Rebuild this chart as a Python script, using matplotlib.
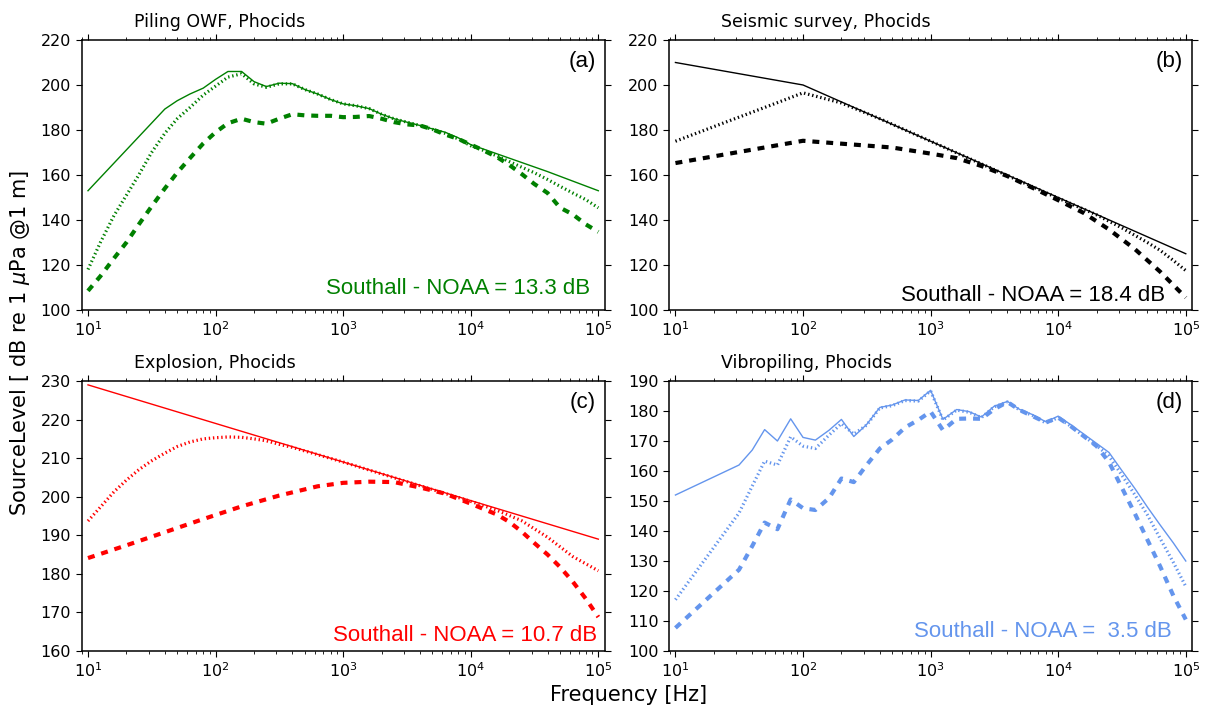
import matplotlib
matplotlib.use('Agg')
import matplotlib.pyplot as plt

plt.rcParams['font.family'] = 'DejaVu Sans'
plt.rcParams['font.size'] = 11
plt.rcParams['lines.scale_dashes'] = False

# ---- (a) Piling OWF ----
fa_src = [10, 40, 50, 63, 80, 100, 125, 160, 200, 250, 315, 400, 500, 630, 800, 1000,
          1250, 1600, 2000, 2500, 3150, 4000, 5000, 6300, 8000, 10000, 20000, 40000, 100000]
la_src = [153, 189.3, 193, 196, 198.6, 202.5, 206, 206, 201.5, 199.3, 200.8, 200.6, 198,
          196, 193.5, 191.6, 190.8, 189.5, 187, 185, 183.5, 182, 180.5, 179, 176.5, 173.5,
          167.5, 161.5, 153]
fa_w = [10, 12.5, 16, 20, 25, 31.5, 40, 50, 63, 80, 100, 125, 160, 200, 250, 315, 400, 500,
        630, 800, 1000, 1250, 1600, 2000, 2500, 3150, 4000, 5000, 6300, 8000, 10000, 12500,
        16000, 20000, 25000, 31500, 40000, 50000, 63000, 80000, 100000]
la_noaa = [118, 130, 142, 151, 160, 170, 178.5, 185, 190, 195.5, 199.5, 203.5, 205, 200.5,
           199, 200.5, 200.5, 198, 196, 193.5, 191.6, 190.8, 189.5, 187, 185, 183.5, 182,
           180.3, 178.5, 176, 173, 171, 168.5, 166, 163.5, 161, 158, 155, 152, 149, 145.4]
la_sth = [108.5, 115, 123, 130, 138, 146, 154, 161, 167.5, 174, 179, 183, 185, 183.5, 182.8,
          185, 187, 186.5, 186.3, 186.3, 185.7, 185.8, 186.2, 185, 183.5, 182.5, 182, 180.3,
          178, 176, 173.5, 171, 168, 164.5, 160.5, 156, 152, 145.5, 142.5, 138, 134.7]

# ---- (b) Seismic survey ----
fb_src = [10, 100, 1000, 10000, 100000]
lb_src = [210, 200, 175, 150, 125]
fb_noaa = [10, 20, 50, 100, 200, 400, 1000, 10000, 20000, 31500, 50000, 63000, 80000, 100000]
lb_noaa = [175, 181.5, 190, 196.5, 192, 185, 175, 149.7, 142.3, 136.5, 130, 126.5, 122, 117.5]
fb_sth = [10, 100, 250, 500, 1000, 1600, 2500, 4000, 6300, 10000, 16000, 25000, 40000,
          63000, 100000]
lb_sth = [165.3, 175.2, 173.5, 172.2, 169.5, 167.5, 164, 159.5, 154.3, 148.8, 143, 135.8,
          127, 117, 105.5]

# ---- (c) Explosion ----
fc_src = [10, 100, 1000, 10000, 100000]
lc_src = [229, 219, 209, 199, 189]
fc_noaa = [10, 12.5, 16, 20, 25, 31.5, 40, 50, 63, 80, 100, 125, 160, 200, 250, 315, 400,
           1000, 10000, 16000, 25000, 40000, 63000, 100000]
lc_noaa = [193.7, 197.3, 201.3, 204.3, 207, 209.3, 211.3, 213, 214.2, 215, 215.3, 215.5,
           215.4, 215, 214.5, 213.6, 212.8, 209, 198.8, 196.5, 193.8, 189.5, 184.5, 180.8]
fc_sth = [10, 20, 40, 80, 160, 315, 630, 1000, 1600, 2500, 4000, 6300, 10000, 16000, 20000,
          25000, 31500, 40000, 50000, 63000, 80000, 100000]
lc_sth = [184.1, 187.4, 190.8, 194.2, 197.5, 200.3, 202.7, 203.6, 203.9, 203.8, 202.4, 200.8,
          198.2, 195.4, 193.5, 191, 188, 185, 181.8, 178, 173.5, 168.8]

# ---- (d) Vibropiling ----
fd = [10, 31.5, 40, 50, 63, 80, 100, 125, 160, 200, 250, 315, 400, 500, 630, 800, 1000,
      1250, 1600, 2000, 2500, 3150, 4000, 5000, 6300, 8000, 10000, 12500, 16000, 20000,
      25000, 31500, 40000, 50000, 63000, 80000, 100000]
ld_src = [152, 162, 167, 173.8, 170, 177.4, 171.2, 170.3, 173.6, 177.2, 171.5, 175.5, 181.2,
          182, 183.7, 183.5, 186.9, 177.2, 180.5, 179.8, 178, 181.6, 183.2, 180.5, 178.8,
          176.4, 178.3, 175.5, 172.2, 169.2, 166.2, 160.2, 154.1, 148, 142, 136, 130]
ld_noaa = [117.1, 146, 155, 163.3, 162, 171.4, 168.3, 167.5, 172, 175.8, 172.3, 175.3, 181,
           181.8, 183.5, 183.3, 186.7, 177, 180.3, 179.6, 177.8, 181.4, 183, 180.3, 178.5,
           176, 177.8, 175, 171.5, 168.5, 165, 158.7, 152, 145.4, 137.5, 129.5, 121.5]
ld_sth = [107.7, 127.1, 135, 142.8, 140.6, 150.5, 147.6, 147, 151, 157.5, 156.3, 162, 167.5,
          170.5, 174.5, 177, 179.8, 173.6, 177.4, 177.5, 177.4, 180.6, 183, 180.3, 178.3,
          176.2, 177.8, 175, 171.5, 168.3, 163, 154.5, 145.7, 137.1, 128.2, 118.4, 110.5]

titles = ['Piling OWF, Phocids', 'Seismic survey, Phocids',
          'Explosion, Phocids', 'Vibropiling, Phocids']
letters = ['(a)', '(b)', '(c)', '(d)']
diffs = ['Southall - NOAA = 13.3 dB', 'Southall - NOAA = 18.4 dB',
         'Southall - NOAA = 10.7 dB', 'Southall - NOAA =  3.5 dB']
colors = ['green', 'black', 'red', 'cornflowerblue']
ylims = [(100, 220), (100, 220), (160, 230), (100, 190)]
ysteps = [20, 20, 10, 10]

curves = [
    (fa_src, la_src, fa_w, la_noaa, fa_w, la_sth),
    (fb_src, lb_src, fb_noaa, lb_noaa, fb_sth, lb_sth),
    (fc_src, lc_src, fc_noaa, lc_noaa, fc_sth, lc_sth),
    (fd, ld_src, fd, ld_noaa, fd, ld_sth),
]

rects = [[0.0675, 0.5628, 0.433, 0.3808], [0.5538, 0.5628, 0.433, 0.3808],
         [0.0675, 0.0818, 0.433, 0.3808], [0.5538, 0.0818, 0.433, 0.3808]]
txt_pos = [(0.972, 0.08), (0.949, 0.053), (0.985, 0.058), (0.962, 0.073)]

fig = plt.figure(figsize=(12.08, 7.09), dpi=100)

for i in range(4):
    ax = fig.add_axes(rects[i])
    f1, l1, f2, l2, f3, l3 = curves[i]
    c = colors[i]
    ax.semilogx(f1, l1, color=c, lw=1.0)
    ax.semilogx(f2, l2, color=c, lw=2.3, linestyle=(0, (1, 2)))
    ax.semilogx(f3, l3, color=c, lw=3.0, linestyle=(0, (5, 5)))
    ax.set_xlim(8.9, 1.12e5)
    lo, hi = ylims[i]
    ax.set_ylim(lo, hi)
    ax.set_yticks(range(lo, hi + 1, ysteps[i]))
    ax.tick_params(which='both', direction='out', top=True, right=True, labelsize=11.5)
    ax.tick_params(which='major', length=4)
    ax.tick_params(which='minor', length=2)
    for s in ax.spines.values():
        s.set_linewidth(1.1)
    ax.text(0.1, 1.068, titles[i], transform=ax.transAxes, ha='left', va='center',
            fontsize=12.5)
    ax.text(0.983, 0.922, letters[i], transform=ax.transAxes, ha='right', va='center',
            fontsize=16, family='Liberation Sans')
    ax.text(txt_pos[i][0], txt_pos[i][1], diffs[i], transform=ax.transAxes, ha='right',
            va='center', fontsize=16, color=c, family='Liberation Sans')

fig.text(0.52, 0.02, 'Frequency [Hz]', ha='center', va='center', fontsize=15)
fig.text(0.0166, 0.516, r'SourceLevel [ dB re 1 $\mu$Pa @1 m]', ha='center', va='center',
         rotation=90, fontsize=15)

fig.savefig('out.png', dpi=100)
